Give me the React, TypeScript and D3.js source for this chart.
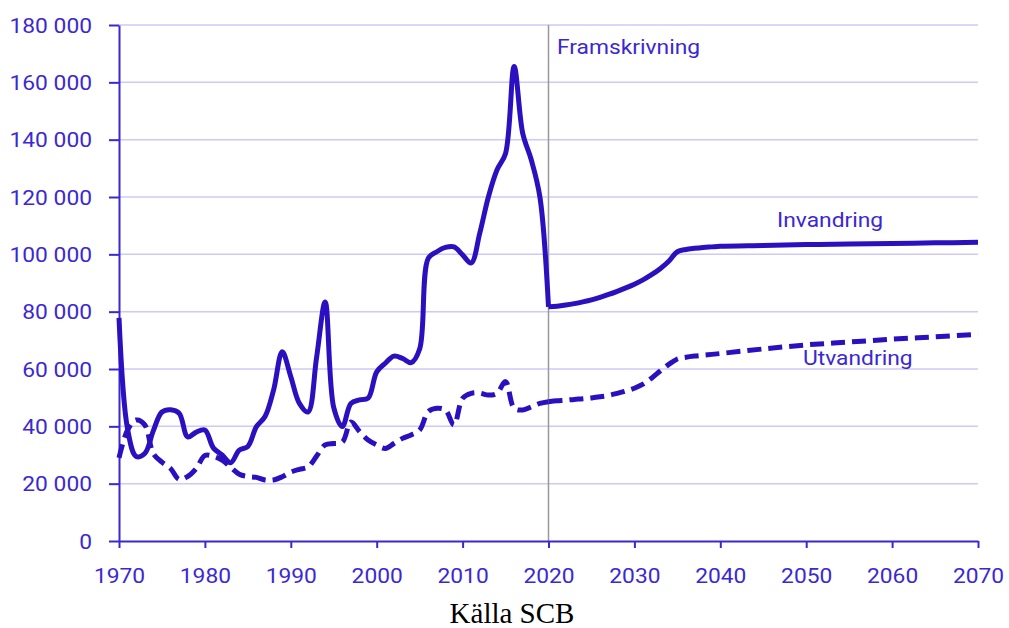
import React, { useEffect, useRef } from "react";
import {
  select,
  scaleLinear,
  axisLeft,
  axisBottom,
  line,
  curveCatmullRom,
  range,
} from "d3";

// Invandring / Utvandring, thousands of persons
const years = range(1970, 2021);
const immigration = [
  77.8, 39, 29.5, 30.5, 38.5, 45, 45.8, 44.6, 36.3, 38, 38.7, 32.4, 30, 27.3,
  31.7, 33, 39.9, 43.4, 52.7, 66, 57.3, 48, 45, 64, 83.4, 46.5, 39.9, 48, 49.2,
  49.8, 59, 62, 64.5, 63.7, 62.2, 67, 98.6, 100.9, 102.4, 102.6, 99.8, 97, 107.4,
  120, 129.4, 135.2, 165.5, 142.2, 132.9, 120, 81.7,
];
const emigration = [
  29, 38.7, 42.2, 40.5, 30.5, 27.5, 25.3, 21.5, 22.5, 25.3, 29.8, 29.5, 28.2,
  25.7, 23.3, 22.5, 22.2, 21.3, 21.3, 22.4, 24, 25, 25.8, 29.6, 33.5, 34, 34.5,
  41.5, 38.2, 35.2, 33.5, 32.3, 34, 35.8, 37, 38.7, 45.1, 46.3, 45.7, 40.5, 49.8,
  51.5, 51.6, 50.9, 51.5, 55.6, 46.3, 45.7, 46.8, 48, 48.6,
];

// projection (Framskrivning)
const projYears = [
  2020, 2021, 2022, 2023, 2024, 2025, 2026, 2027, 2028, 2029, 2030, 2031, 2032,
  2033, 2034, 2035, 2036, 2037, 2038, 2039, 2040, 2045, 2050, 2055, 2060, 2065,
  2070,
];
const projImmigration = [
  81.7, 81.9, 82.3, 82.8, 83.4, 84.1, 85, 86, 87.1, 88.3, 89.6, 91.1, 92.9, 95,
  97.6, 100.9, 101.7, 102.1, 102.4, 102.6, 102.8, 103.1, 103.4, 103.6, 103.8,
  104, 104.2,
];
const projEmigration = [
  48.6, 48.9, 49.1, 49.4, 49.6, 49.9, 50.3, 50.8, 51.5, 52.3, 53.3, 54.7, 56.8,
  59.3, 61.6, 63.5, 64.1, 64.5, 64.8, 65.1, 65.4, 67, 68.4, 69.4, 70.4, 71.2,
  72.1,
];

const yTicks = [0, 20000, 40000, 60000, 80000, 100000, 120000, 140000, 160000, 180000];
const xTicks = [1970, 1980, 1990, 2000, 2010, 2020, 2030, 2040, 2050, 2060, 2070];

const width = 1009;
const height = 628;
const margin = { top: 25, right: 31, bottom: 87, left: 119 };
const lineColor = "#2a10bf";
const axisColor = "#3a28d0";
const textColor = "#3b28d4";
const stretch = 1.14;

function ChartSvg() {
  const svgRef = useRef(null);

  useEffect(() => {
    const svg = select(svgRef.current);
    svg.selectAll("*").remove();

    const x = scaleLinear().domain([1970, 2070]).range([margin.left, width - margin.right]);
    const y = scaleLinear().domain([0, 180000]).range([height - margin.bottom, margin.top]);

    // grid
    svg
      .append("g")
      .selectAll("line")
      .data(yTicks.slice(1))
      .join("line")
      .attr("x1", x(1970))
      .attr("x2", x(2070))
      .attr("y1", (d) => y(d))
      .attr("y2", (d) => y(d))
      .attr("stroke", "#cfcaf4")
      .attr("stroke-width", 1.5);

    // forecast divider
    svg
      .append("line")
      .attr("x1", x(2020))
      .attr("x2", x(2020))
      .attr("y1", y(180000))
      .attr("y2", y(0))
      .attr("stroke", "#999")
      .attr("stroke-width", 1.5);

    const fmt = (d) => String(d).replace(/\B(?=(\d{3})+(?!\d))/g, " ");

    const yAxis = axisLeft(y).tickValues(yTicks).tickFormat(fmt).tickSize(10).tickSizeOuter(0);
    const gy = svg.append("g").attr("transform", `translate(${margin.left},0)`).call(yAxis);

    const xAxis = axisBottom(x).tickValues(xTicks).tickFormat((d) => String(d)).tickSize(7).tickSizeOuter(0);
    const gx = svg.append("g").attr("transform", `translate(0,${y(0)})`).call(xAxis);

    [gx, gy].forEach((g) => {
      g.select(".domain").attr("stroke", axisColor).attr("stroke-width", 2);
      g.selectAll(".tick line").attr("stroke", axisColor).attr("stroke-width", 2);
      g.selectAll(".tick text")
        .attr("fill", textColor)
        .attr("font-family", "Roboto, sans-serif")
        .attr("font-size", 20);
    });
    gy.selectAll(".tick text")
      .attr("x", -27 / stretch)
      .attr("dy", "0.35em")
      .attr("transform", `scale(${stretch},1)`);
    gx.selectAll(".tick text")
      .attr("y", 42)
      .attr("dy", 0)
      .attr("transform", `scale(${stretch},1)`);

    const path = line()
      .x((d) => x(d[0]))
      .y((d) => y(d[1] * 1000))
      .curve(curveCatmullRom.alpha(0.5));

    const series = [
      { pts: years.map((yr, i) => [yr, immigration[i]]), dash: null },
      { pts: projYears.map((yr, i) => [yr, projImmigration[i]]), dash: null },
      { pts: years.map((yr, i) => [yr, emigration[i]]), dash: "14 7" },
      { pts: projYears.map((yr, i) => [yr, projEmigration[i]]), dash: "14 7" },
    ];

    svg
      .append("g")
      .selectAll("path")
      .data(series)
      .join("path")
      .attr("d", (d) => path(d.pts))
      .attr("fill", "none")
      .attr("stroke", lineColor)
      .attr("stroke-width", 5)
      .attr("stroke-linejoin", "round")
      .attr("stroke-dasharray", (d) => d.dash);

    // annotations
    const labels = [
      { text: "Framskrivning", x: 557, y: 54 },
      { text: "Invandring", x: 777, y: 227 },
      { text: "Utvandring", x: 803, y: 365 },
    ];
    svg
      .append("g")
      .selectAll("text")
      .data(labels)
      .join("text")
      .attr("transform", (d) => `translate(${d.x},${d.y}) scale(${stretch},1)`)
      .attr("fill", textColor)
      .attr("font-family", "Roboto, sans-serif")
      .attr("font-size", 20)
      .text((d) => d.text);

    svg
      .append("text")
      .attr("x", 512)
      .attr("y", 623)
      .attr("text-anchor", "middle")
      .attr("font-family", "'Liberation Serif', 'Times New Roman', serif")
      .attr("font-size", 29)
      .attr("fill", "#000")
      .text("Källa SCB");
  }, []);

  return (
    <svg
      ref={svgRef}
      width={width}
      height={height}
      style={{ position: "absolute", left: 0, top: 0, background: "#fff" }}
    />
  );
}

export default function App() {
  return <ChartSvg />;
}
